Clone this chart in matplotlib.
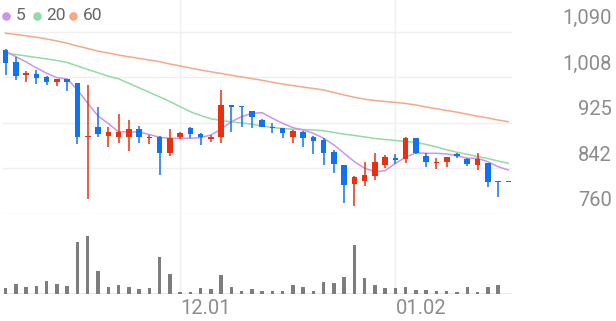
import matplotlib
matplotlib.use("Agg")
import matplotlib.pyplot as plt
from matplotlib.lines import Line2D
from matplotlib.transforms import blended_transform_factory

plt.rcParams['font.family'] = ['Roboto', 'DejaVu Sans']

# ---------------- data ----------------
opens = [1056.7, 1034.5, 1011.0, 1013.9, 1007.4, 998.9, 1004.3, 996.5, 899.3, 918.0,
         901.1, 898.8, 899.9, 913.3, 897.5, 898.8, 870.9, 899.9, 916.2, 905.3,
         896.3, 898.8, 956.7, 955.4, 945.8, 930.1, 918.0, 916.2, 898.8, 908.9,
         899.3, 893.9, 872.7, 848.7, 814.3, 820.3, 828.8, 848.1, 860.8, 859.0,
         897.0, 865.5, 852.8, 853.6, 869.1, 860.1, 848.7, 852.8, 819.7, 818.0]
highs = [1058.5, 1044.6, 1019.3, 1020.6, 1009.7, 1004.3, 1004.3, 996.5, 993.4, 954.2,
         917.4, 940.9, 929.6, 919.2, 902.4, 901.1, 914.4, 908.9, 917.4, 906.6,
         902.4, 984.4, 956.7, 955.4, 946.9, 931.0, 925.2, 916.2, 912.0, 910.2,
         901.1, 897.0, 875.8, 848.7, 828.8, 853.6, 870.9, 866.8, 868.6, 899.9,
         898.1, 869.8, 860.8, 863.7, 870.4, 861.9, 870.6, 852.8, 819.7, 818.0]
lows = [1011.5, 1002.5, 998.3, 995.8, 993.4, 991.6, 983.1, 886.1, 786.6, 898.8,
        881.8, 887.9, 874.0, 887.9, 886.7, 830.6, 865.0, 895.2, 897.0, 884.3,
        890.8, 889.0, 908.4, 918.0, 915.1, 916.9, 907.1, 898.1, 889.0, 881.8,
        868.6, 848.7, 833.7, 779.4, 774.5, 810.7, 821.6, 843.8, 850.5, 851.8,
        868.6, 845.6, 841.4, 845.6, 861.9, 846.9, 839.6, 808.9, 790.2, 818.0]
closes = [1032.7, 1009.7, 1014.6, 1006.1, 998.3, 1004.3, 998.9, 898.8, 901.7, 905.3,
          908.9, 908.9, 914.4, 898.8, 899.9, 870.9, 897.5, 907.1, 904.2, 898.8,
          900.2, 957.2, 954.2, 953.1, 936.1, 916.9, 915.1, 907.1, 910.2, 898.1,
          892.1, 869.8, 850.5, 812.5, 827.5, 830.6, 854.1, 863.7, 858.3, 897.0,
          869.8, 853.6, 854.6, 862.6, 865.5, 849.9, 859.5, 818.5, 817.4, 818.0]
volumes = [94, 150, 100, 120, 195, 145, 115, 775, 875, 345,
           100, 135, 110, 80, 85, 555, 300, 35, 35, 85,
           70, 280, 100, 50, 70, 45, 45, 50, 135, 105,
           45, 175, 165, 255, 735, 245, 135, 90, 95, 110,
           60, 55, 45, 45, 35, 105, 30, 100, 140, 0]
ma5 = [1053.7, 1044.6, 1035.0, 1024.2, 1014.6, 1006.6, 1004.3, 984.4, 960.3, 937.3,
       923.8, 908.9, 908.4, 908.4, 903.9, 898.8, 897.0, 897.0, 897.0, 898.1,
       902.9, 913.3, 927.0, 936.1, 942.2, 943.3, 933.2, 924.1, 916.2, 912.0,
       906.0, 897.0, 884.9, 869.8, 854.6, 842.7, 836.6, 838.4, 851.8, 862.6,
       870.9, 869.8, 869.8, 868.6, 865.5, 860.8, 860.8, 854.6, 845.6, 839.6]
ma20 = [1051.3, 1048.6, 1045.9, 1043.2, 1040.5, 1037.7, 1034.1, 1027.8, 1021.5, 1015.5,
        1009.3, 1004.6, 996.5, 988.3, 980.2, 971.9, 963.6, 954.2, 945.1, 938.2,
        932.3, 929.2, 926.8, 924.7, 922.5, 919.2, 916.5, 914.7, 913.4, 912.9,
        912.0, 910.6, 907.5, 904.4, 902.1, 899.4, 896.6, 894.8, 893.0, 891.2,
        889.4, 885.8, 881.3, 876.2, 871.7, 868.0, 864.1, 860.4, 855.9, 851.8]
ma60 = [1087.0, 1084.8, 1082.4, 1079.7, 1076.6, 1073.0, 1068.9, 1064.0, 1059.5, 1054.6,
        1051.3, 1047.7, 1044.4, 1041.5, 1038.6, 1035.6, 1031.4, 1027.8, 1024.2, 1020.6,
        1017.3, 1014.2, 1011.2, 1007.9, 1005.0, 1001.9, 998.3, 995.2, 992.3, 989.6,
        987.1, 984.4, 979.9, 975.3, 971.2, 967.7, 965.2, 963.6, 961.9, 959.9,
        957.2, 953.6, 950.4, 947.3, 944.2, 940.6, 937.0, 933.7, 930.1, 927.0]
ytick_values = [760, 842.5, 925, 1007.5, 1090]
ytick_labels = ["760", "842", "925", "1,008", "1,090"]
xtick_index = [17, 38]
xtick_labels = ["12.01", "01.02"]
legend_labels = ["5", "20", "60"]

# ---------------- style ----------------
RED = '#ea300e'
BLUE = '#1072f0'
C5, C20, C60 = '#cc95ec', '#93dba6', '#f7a886'
GRID = '#efefef'
W, H = 616, 321

fig = plt.figure(figsize=(W / 100, H / 100), dpi=100)
fig.patch.set_facecolor('white')

L_px, R_px = 2.7, 511.5
step = 10.257
x0 = 5.7
xlim = ((L_px - x0) / step, (R_px - x0) / step)

def axes_rect(top_px, bot_px):
    return [L_px / W, (H - bot_px) / H, (R_px - L_px) / W, (bot_px - top_px) / H]

ax = fig.add_axes(axes_rect(0, 214))
axv = fig.add_axes(axes_rect(214, 294))
for a in (ax, axv):
    a.set_xlim(*xlim)
    a.axis('off')

ax.set_ylim(760, 760 + 214 * 82.5 / 45.6)
axv.set_ylim(0, 1200)

n = len(opens)
idx = list(range(n))

# grid
for v in ytick_values:
    ax.axhline(v, color=GRID, lw=1.0, zorder=0)
axv.axhline(0, color='#e6e6e6', lw=1.2, zorder=0)
for xi in xtick_index:
    ax.axvline(xi, color=GRID, lw=1.0, zorder=0)
    axv.axvline(xi, color=GRID, lw=1.0, zorder=0)

# MA lines
ax.plot(idx, ma60, color=C60, lw=1.1, zorder=2)
ax.plot(idx, ma20, color=C20, lw=1.1, zorder=2)
ax.plot(idx, ma5, color=C5, lw=1.1, zorder=2)

# candles
min_h = 1.6
for i in idx:
    o, h, l, c = opens[i], highs[i], lows[i], closes[i]
    col = RED if c >= o else BLUE
    ax.vlines(i, l, h, color=col, lw=1.1, zorder=3)
    bot = min(o, c)
    hh = max(abs(c - o), min_h)
    ax.bar(i, hh, bottom=bot, width=0.54, color=col, lw=0, zorder=4)

# volume
axv.bar(idx, volumes, width=0.34, color='#7d7d7d', lw=0, zorder=2)

# y labels
tr = blended_transform_factory(fig.transFigure, ax.transData)
for v, lab in zip(ytick_values, ytick_labels):
    ax.text(612 / W, v + 13 * 82.5 / 45.6, lab, transform=tr, ha='right', va='center',
            fontsize=14.5, color='#8c8c8c', clip_on=False)

# x labels
trx = blended_transform_factory(axv.transData, fig.transFigure)
for xi, lab in zip(xtick_index, xtick_labels):
    axv.text(xi, (H - 309) / H, lab, transform=trx, ha='left', va='center',
             fontsize=14.5, color='#8c8c8c', clip_on=False)

# legend
leg_cols = [C5, C20, C60]
circ_x = [5.8, 37.0, 73.3]
text_x = [15.5, 46.0, 83.0]
ly = (H - 15.8) / H
for cx, tx, col, lab in zip(circ_x, text_x, leg_cols, legend_labels):
    fig.add_artist(Line2D([cx / W], [ly], marker='o', markersize=6.2, color=col,
                          markeredgewidth=0, transform=fig.transFigure))
    fig.text(tx / W, ly, lab, ha='left', va='center', fontsize=12.5, color='#666666')

fig.savefig('out.png', dpi=100, facecolor='white')
